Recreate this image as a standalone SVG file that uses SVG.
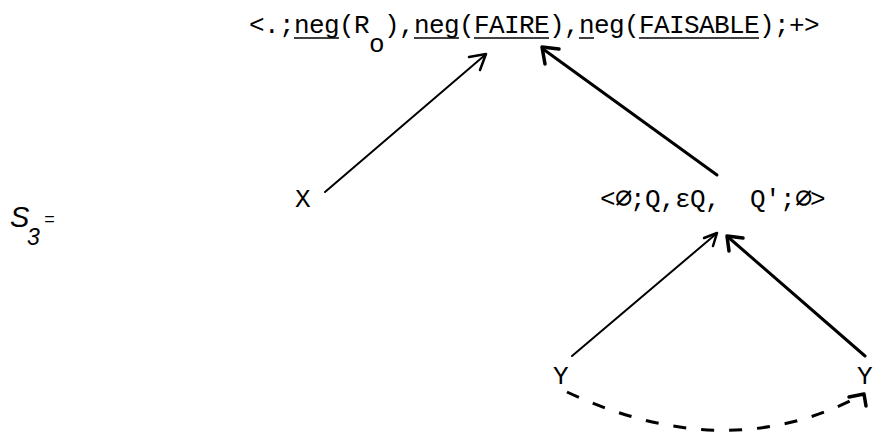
<svg xmlns="http://www.w3.org/2000/svg" width="878" height="433" viewBox="0 0 878 433">
<style>
.tw{font-family:"Liberation Mono","Courier New",monospace;font-size:26px;letter-spacing:-0.6px;fill:#000}
.es{font-family:"DejaVu Sans Mono",monospace;font-size:29px;letter-spacing:-2.5px}
.hw{font-family:"Liberation Sans",Arial,sans-serif;font-style:italic;fill:#000}
.ln{stroke:#000;stroke-width:2;fill:none;stroke-linecap:round}
.lnb{stroke:#000;stroke-width:3;fill:none;stroke-linecap:round}
.ah{stroke:#000;stroke-width:2.5;fill:none;stroke-linecap:round;stroke-linejoin:round}
.ahb{stroke:#000;stroke-width:3.5;fill:none;stroke-linecap:round;stroke-linejoin:round}
.ul{stroke:#000;stroke-width:1.5}
.dash{stroke:#000;stroke-width:3;fill:none;stroke-dasharray:13 15}
</style>
<rect width="878" height="433" fill="#fff"/>
<g id="label-S3">
<text class="hw" x="10" y="227" font-size="29">S</text>
<text class="hw" x="27" y="245" font-size="23">3</text>
<text class="hw" x="44" y="225" font-size="18">=</text>
</g>
<g id="node-top">
<text class="tw" x="249" y="33" xml:space="preserve">&lt;.;neg(R<tspan dy="19">o</tspan><tspan dy="-19">),neg(FAIRE),neg(FAISABLE);+&gt;</tspan></text>
<line class="ul" x1="294" y1="38" x2="339" y2="38"/>
<line class="ul" x1="414" y1="38" x2="459" y2="38"/>
<line class="ul" x1="474" y1="38" x2="549" y2="38"/>
<line class="ul" x1="579" y1="38" x2="594" y2="38"/>
<line class="ul" x1="639" y1="38" x2="759" y2="38"/>
</g>
<g id="node-X">
<text class="tw" x="295" y="207">X</text>
</g>
<g id="node-mid">
<text class="tw" x="600" y="207" xml:space="preserve">&lt;<tspan class="es">∅</tspan>;Q,εQ,  Q';<tspan class="es">∅</tspan>&gt;</text>
</g>
<g id="node-Y1">
<text class="tw" x="553" y="384">Y</text>
</g>
<g id="node-Y2">
<text class="tw" x="857" y="384">Y</text>
</g>
<g id="connectors">
<line class="ln" x1="325" y1="192" x2="485" y2="55"/>
<polyline class="ah" points="469,57 486,54 480,70"/>
<line class="lnb" x1="717" y1="175" x2="543" y2="49"/>
<polyline class="ahb" points="545,64 542,47 559,49"/>
<line class="ln" x1="572" y1="356" x2="716" y2="234"/>
<polyline class="ah" points="704,238 717,233 713,246"/>
<line class="lnb" x1="865" y1="356" x2="728" y2="237"/>
<polyline class="ahb" points="729,251 727,236 743,238"/>
<path class="dash" d="M567,392 Q725,466 858,397"/>
<polyline class="ahb" points="849,397 864,394 866,406"/>
</g>
</svg>
